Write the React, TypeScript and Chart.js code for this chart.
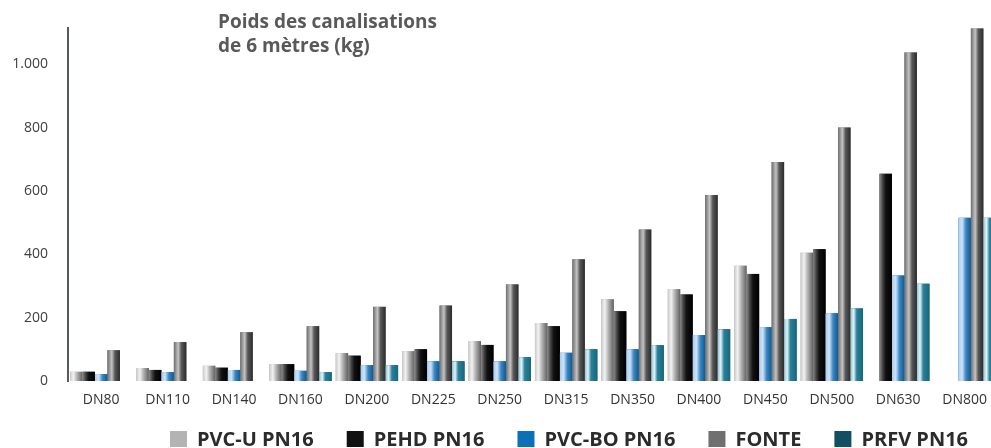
import React, { useEffect, useRef } from "react";
import { Chart, registerables } from "chart.js";

Chart.register(...registerables);

// ---- data ----
const categories = ["DN80", "DN110", "DN140", "DN160", "DN200", "DN225", "DN250", "DN315", "DN350", "DN400", "DN450", "DN500", "DN630", "DN800"];
const pvcU = [29, 41, 48, 53, 88, 94, 126, 183, 258, 290, 364, 405, null, null];
const pehd = [29, 35, 42, 53, 80, 100, 114, 173, 220, 273, 338, 416, 654, null];
const pvcBo = [22, 28, 35, 32, 50, 62, 62, 89, 100, 145, 170, 214, 333, 515];
const fonte = [97, 123, 154, 173, 234, 238, 305, 384, 478, 587, 691, 800, 1037, 1116];
const prfv = [null, null, null, 28, 50, 62, 75, 100, 113, 163, 196, 229, 307, 515];
const seriesNames = ["PVC-U PN16", "PEHD PN16", "PVC-BO PN16", "FONTE", "PRFV PN16"];
const yTickValues = [0, 200, 400, 600, 800, 1000];
const titleLines = ["Poids des canalisations", "de 6 mètres (kg)"];

// ---- styles ----
const legendColors = ["#b3b3b3", "#111111", "#0b70b8", "#707070", "#114f63"];
const barStops: [number, string][][] = [
  [[0, "#c9c9c9"], [0.28, "#f2f2f2"], [0.55, "#b5b5b5"], [1, "#606060"]],
  [[0, "#8a8a8a"], [0.25, "#444444"], [0.5, "#111111"], [1, "#000000"]],
  [[0, "#a9cdef"], [0.3, "#cfe3f6"], [0.6, "#3c86c2"], [1, "#0c5a92"]],
  [[0, "#6e6e6e"], [0.35, "#c4c4c4"], [0.6, "#585858"], [1, "#2b2b2b"]],
  [[0, "#8ec6d4"], [0.25, "#e3f2f6"], [0.5, "#2b8199"], [1, "#15677d"]],
];

const shadingPlugin = {
  id: "barShading",
  afterDatasetsDraw(chart: any) {
    const ctx = chart.ctx;
    const area = chart.chartArea;
    ctx.save();
    ctx.beginPath();
    ctx.rect(area.left, area.top, area.right - area.left, area.bottom - area.top);
    ctx.clip();
    chart.data.datasets.forEach((ds: any, i: number) => {
      const meta = chart.getDatasetMeta(i);
      meta.data.forEach((bar: any, j: number) => {
        const v = ds.data[j];
        if (v == null) return;
        const { x, y, base, width } = bar.getProps(["x", "y", "base", "width"], true);
        const left = x - width / 2;
        const g = ctx.createLinearGradient(left, 0, left + width, 0);
        barStops[i].forEach(([o, c]) => g.addColorStop(o, c));
        ctx.fillStyle = g;
        ctx.fillRect(left, y, width, base - y);
      });
    });
    ctx.restore();
  },
};

const titlePlugin = {
  id: "innerTitle",
  afterDraw(chart: any) {
    const ctx = chart.ctx;
    ctx.save();
    ctx.font = "bold 19px 'Open Sans', sans-serif";
    ctx.fillStyle = "#595959";
    ctx.textBaseline = "alphabetic";
    ctx.textAlign = "left";
    ctx.fillText(titleLines[0], 218, 28);
    ctx.fillText(titleLines[1], 218, 52);
    ctx.restore();
  },
};

const legendPlugin = {
  id: "customLegend",
  afterDraw(chart: any) {
    const ctx = chart.ctx;
    ctx.save();
    ctx.font = "bold 20px 'Open Sans', sans-serif";
    ctx.textBaseline = "middle";
    ctx.textAlign = "left";
    const box = 17;
    const textGap = 10;
    const gap = 33;
    const widths = seriesNames.map((t) => box + textGap + ctx.measureText(t).width);
    const total = widths.reduce((a, b) => a + b, 0) + gap * (widths.length - 1);
    let x = 569 - total / 2;
    const cy = 439;
    seriesNames.forEach((t, i) => {
      ctx.fillStyle = legendColors[i];
      ctx.fillRect(x, cy - 8, box, 16);
      ctx.fillStyle = "#2b2b2b";
      ctx.fillText(t, x + box + textGap, cy + 1);
      x += widths[i] + gap;
    });
    ctx.restore();
  },
};

export default function App() {
  const ref = useRef<HTMLCanvasElement | null>(null);

  useEffect(() => {
    if (!ref.current) return;
    const seriesData = [pvcU, pehd, pvcBo, fonte, prfv];
    const chart = new Chart(ref.current, {
      type: "bar",
      data: {
        labels: categories,
        datasets: seriesData.map((d, i) => ({
          label: seriesNames[i],
          data: d,
          backgroundColor: legendColors[i],
          borderWidth: 0,
          barPercentage: 1,
          categoryPercentage: 0.94,
        })),
      },
      options: {
        responsive: false,
        animation: false,
        layout: { padding: { top: 26, left: 0, right: 0, bottom: 0 } },
        plugins: {
          legend: { display: false },
          tooltip: { enabled: false },
          title: { display: false },
        },
        scales: {
          x: {
            grid: { display: false, drawTicks: false },
            border: { display: false },
            ticks: {
              color: "#333333",
              font: { family: "'Open Sans', sans-serif", size: 14 },
              padding: 11,
              maxRotation: 0,
              autoSkip: false,
            },
            afterFit(scale: any) {
              scale.height = 67;
            },
          },
          y: {
            min: 0,
            max: 1113,
            grid: { display: false, drawTicks: false },
            border: { display: true, color: "#555a5a", width: 2 },
            afterBuildTicks(scale: any) {
              scale.ticks = yTickValues.map((v) => ({ value: v }));
            },
            ticks: {
              color: "#404040",
              font: { family: "'Open Sans', sans-serif", size: 14 },
              padding: 20,
              callback: (v: any) => Number(v).toLocaleString("de-DE"),
            },
            afterFit(scale: any) {
              scale.width = 68;
            },
          },
        },
      },
      plugins: [shadingPlugin, titlePlugin, legendPlugin],
    });
    return () => chart.destroy();
  }, []);

  return (
    <div style={{ position: "absolute", left: 0, top: 0, width: 991, height: 448, overflow: "hidden", background: "#ffffff" }}>
      <canvas ref={ref} width={998} height={448} style={{ display: "block", width: 998, height: 448 }} />
    </div>
  );
}
